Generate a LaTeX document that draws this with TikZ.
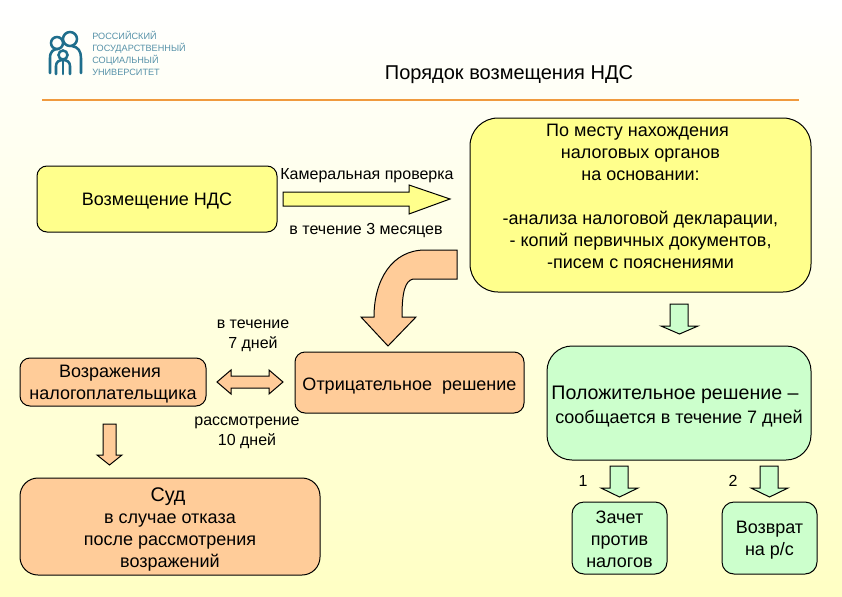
\documentclass[tikz,border=0pt]{standalone}
\usepackage{fontspec}
\setmainfont{Liberation Sans}
\definecolor{boxyellow}{HTML}{FFFF8C}
\definecolor{boxorange}{HTML}{FFCC99}
\definecolor{boxgreen}{HTML}{CCFFCC}
\definecolor{logoteal}{HTML}{1F6E8C}
\definecolor{rulecol}{HTML}{F09A3E}
\definecolor{bgbottom}{HTML}{FFFFC4}
\tikzset{
  rb/.style={draw=black, line width=0.75pt, inner sep=0pt, align=center, font=\fontsize{13.5}{16.5}\selectfont},
  lbl/.style={inner sep=0pt, align=center, font=\fontsize{12}{15}\selectfont},
  blockarrow/.style={draw=black, line width=0.75pt, line join=miter},
  logotext/.style={inner sep=0pt, anchor=west, text=logoteal!75!white, font=\fontsize{6.85}{7}\selectfont},
  logoline/.style={draw=logoteal, line width=1.9pt, line cap=round}
}
% name, fill, x1, y1, x2, y2, radius, text
\newcommand\rbx[8]{\node[rb, fill=#2, rounded corners=#7*0.75pt,
  minimum width={(#5-#3)*0.75pt}, minimum height={(#6-#4)*0.75pt}]
  (#1) at ({(#3+#5)/2},{(#4+#6)/2}) {#8};}
% strut that lowers the text of a box
\newcommand\txtdown[1]{\rule{0pt}{#1pt}}
% fill, shaft x1, shaft x2, y top, y head, head x1, head x2, y tip
\newcommand\dnarrow[8]{\draw[blockarrow, fill=#1] (#2,#4) -- (#3,#4) -- (#3,#5) -- (#7,#5)
  -- ({(#6+#7)/2},#8) -- (#6,#5) -- (#2,#5) -- cycle;}
\begin{document}
\begin{tikzpicture}[x=0.75pt,y=-0.75pt]
\useasboundingbox (0,0) rectangle (842,596);
\shade[top color=white, bottom color=bgbottom] (0,0) rectangle (842,596);

% logo
\draw[logoline] (57,43) circle (6);
\draw[logoline] (70,39) circle (7);
\draw[logoline] (63,55) circle (4.5);
\draw[logoline] (50,73) -- (50,58) .. controls (50,51) and (54,49) .. (58,49);
\draw[logoline] (81,73) -- (81,58) .. controls (81,51) and (78,47) .. (72,46);
\draw[logoline] (56,74) -- (56,66) .. controls (56,62) and (59,60) .. (63,60) .. controls (67,60) and (70,62) .. (70,66) -- (70,74);
\draw[logoline] (63,61) -- (63,74);
\node[logotext] (l1) at (92,35) {РОССИЙСКИЙ};
\node[logotext] (l2) at (92,48) {ГОСУДАРСТВЕННЫЙ};
\node[logotext] (l3) at (92,60) {СОЦИАЛЬНЫЙ};
\node[logotext] (l4) at (92,72) {УНИВЕРСИТЕТ};

% title and rule
\node[lbl, font=\fontsize{15}{18}\selectfont] (title) at (509,75) {Порядок возмещения НДС};
\draw[draw=rulecol, line width=1.5pt] (42,100) -- (799,100);

% boxes
\rbx{vozm}{boxyellow}{37}{166}{277}{232}{10}{\txtdown{12.7}Возмещение НДС}
\rbx{mesto}{boxyellow}{470}{118}{811}{292}{28}{\txtdown{12.7}По месту нахождения\hspace*{4.5pt}\\налоговых органов\\на основании:\\~\\-анализа налоговой декларации,\\- копий первичных документов,\\-писем с пояснениями\\~}
\rbx{otr}{boxorange}{295}{352}{524}{413}{10}{\txtdown{14.2}Отрицательное\ \ решение}
\rbx{vozr}{boxorange}{20}{358}{206}{406}{10}{\txtdown{12.7}Возражения\hspace*{4.5pt}\\налогоплательщика}
\rbx{sud}{boxorange}{20}{478}{320}{575}{18}{\txtdown{15.2}{\fontsize{14.8}{16.5}\selectfont Суд}\hspace*{3pt}\\в случае отказа\hspace*{4.5pt}\\после рассмотрения\hspace*{4.5pt}\\возражений}
\rbx{pol}{boxgreen}{547}{346}{811}{460}{25}{\txtdown{15.2}{\fontsize{14.7}{16.5}\selectfont Положительное решение –}\hspace*{6pt}\\[2pt]сообщается в течение 7 дней}
\rbx{zach}{boxgreen}{572}{502}{667}{574}{12}{\txtdown{11.2}Зачет\\против\\налогов}
\rbx{vozv}{boxgreen}{722}{502}{817}{574}{12}{\txtdown{12.7}Возврат\\на р/с}

% labels
\node[lbl] (kam) at (367,176) {Камеральная проверка};
\node[lbl] (m3) at (366,231) {в течение 3 месяцев};
\node[lbl] (d7) at (253,336) {в течение\\7 дней};
\node[lbl] (d10) at (247,433) {рассмотрение\\10 дней};
\node[lbl] (n1) at (583,481) {1};
\node[lbl] (n2) at (733,481) {2};

% block arrows
\draw[blockarrow, fill=boxyellow] (283,192) -- (409,192) -- (409,185) -- (450,199) -- (409,214) -- (409,206) -- (283,206) -- cycle;
\draw[blockarrow, fill=boxorange] (457,250) -- (457,279) -- (413,279) .. controls (405,281) and (402,292) .. (402,317)
  -- (416,317) -- (388,346) -- (361,317) -- (374,317) .. controls (374,280) and (392,250) .. (425,250) -- cycle;
\draw[blockarrow, fill=boxorange] (217,382) -- (231,370) -- (231,376) -- (269,376) -- (269,370) -- (283,382) -- (269,394) -- (269,388) -- (231,388) -- (231,394) -- cycle;
\dnarrow{boxorange}{103}{116}{424}{455}{97}{122}{465}
\dnarrow{boxgreen}{670}{688}{304}{326}{661}{698}{334}
\dnarrow{boxgreen}{610}{628}{466}{488}{601}{638}{497}
\dnarrow{boxgreen}{760}{778}{466}{488}{751}{788}{497}
\end{tikzpicture}
\end{document}
